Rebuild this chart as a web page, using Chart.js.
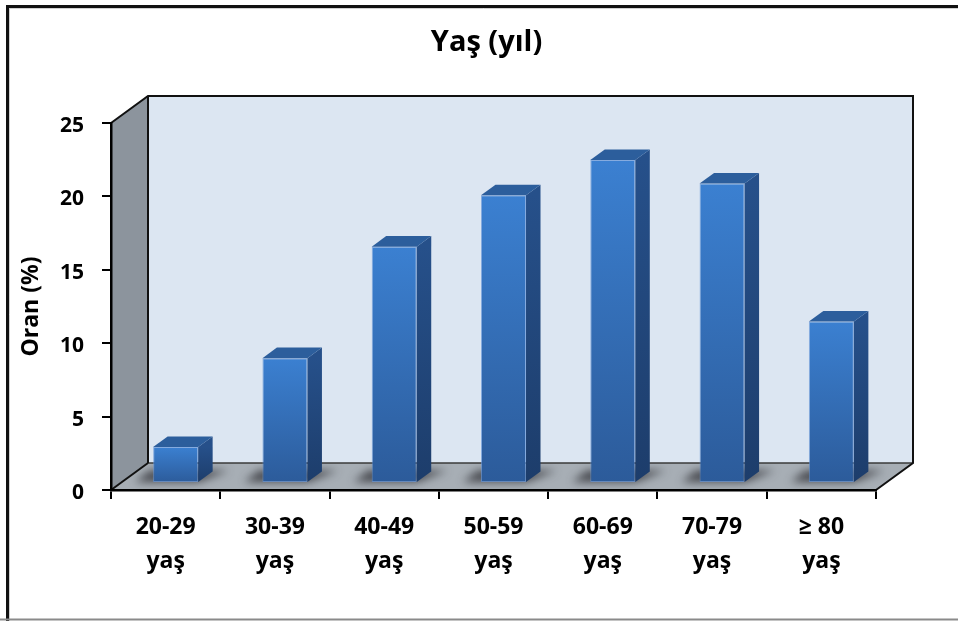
<!DOCTYPE html>
<html>
<head>
<meta charset="utf-8">
<script src="https://cdn.jsdelivr.net/npm/chart.js@4.4.1/dist/chart.umd.min.js"></script>
<style>
  html, body { margin: 0; padding: 0; background: #ffffff; }
  #c { display: block; }
</style>
</head>
<body>
<canvas id="c" width="958" height="621"></canvas>
<script>
// Age groups and their share (%)
const categories = [
  ['20-29', 'yaş'], ['30-39', 'yaş'], ['40-49', 'yaş'], ['50-59', 'yaş'],
  ['60-69', 'yaş'], ['70-79', 'yaş'], ['≥ 80', 'yaş']
];
const oranValues = [2.45, 8.5, 16.1, 19.6, 22.0, 20.4, 11.0];
const yTicks = [0, 5, 10, 15, 20, 25];
const chartTitle = 'Yaş (yıl)';
const yAxisTitle = 'Oran (%)';

// Oblique depth of the walls/floor and of the bars
const WALL_DX = 37, WALL_DY = -27;
const BAR_SHIFT_X = 10, BAR_SHIFT_Y = -7;   // bar front plane behind the axis plane
const BAR_DX = 14.5, BAR_DY = -10.6;        // bar thickness
const FONT = '"Open Sans", Lato, sans-serif';

function poly(ctx, pts) {
  ctx.beginPath();
  ctx.moveTo(pts[0][0], pts[0][1]);
  for (let i = 1; i < pts.length; i++) ctx.lineTo(pts[i][0], pts[i][1]);
  ctx.closePath();
}
function line(ctx, x1, y1, x2, y2) {
  ctx.beginPath(); ctx.moveTo(x1, y1); ctx.lineTo(x2, y2); ctx.stroke();
}

const depth3d = {
  id: 'depth3d',
  beforeDraw(chart) {
    const { ctx, chartArea: a, width, height } = chart;
    const L = a.left, R = a.right, T = a.top, B = a.bottom;
    ctx.save();
    // outer frame
    ctx.strokeStyle = '#111'; ctx.lineWidth = 3;
    line(ctx, 7.5, 5, 7.5, height);
    line(ctx, 6, 6.5, width, 6.5);
    ctx.strokeStyle = '#d0d0d0'; ctx.lineWidth = 1;
    line(ctx, 9.5, 8, 9.5, height);
    line(ctx, 9, 8.5, width, 8.5);
    ctx.strokeStyle = '#8a8a8a'; ctx.lineWidth = 2;
    line(ctx, 0, height - 1.5, width, height - 1.5);

    // back wall
    ctx.fillStyle = '#dce6f2';
    ctx.fillRect(L + WALL_DX, T + WALL_DY, R - L, B - T);
    // side wall
    ctx.fillStyle = '#8c949d';
    poly(ctx, [[L, T], [L + WALL_DX, T + WALL_DY], [L + WALL_DX, B + WALL_DY], [L, B]]);
    ctx.fill();
    // floor
    ctx.fillStyle = '#a7aeb5';
    poly(ctx, [[L, B], [L + WALL_DX, B + WALL_DY], [R + WALL_DX, B + WALL_DY], [R, B]]);
    ctx.fill();
    // floor back edge
    ctx.strokeStyle = '#3a3a3a'; ctx.lineWidth = 1.5;
    line(ctx, L + WALL_DX, B + WALL_DY, R + WALL_DX, B + WALL_DY);
    // wall outlines
    ctx.strokeStyle = '#111'; ctx.lineWidth = 2;
    ctx.lineJoin = 'miter';
    ctx.beginPath();
    ctx.moveTo(L, T);
    ctx.lineTo(L + WALL_DX, T + WALL_DY);
    ctx.lineTo(R + WALL_DX, T + WALL_DY);
    ctx.lineTo(R + WALL_DX, B + WALL_DY);
    ctx.lineTo(R, B);
    ctx.stroke();
    line(ctx, L + WALL_DX, T + WALL_DY, L + WALL_DX, B + WALL_DY);
    line(ctx, L, B, L + WALL_DX, B + WALL_DY);
    ctx.restore();
  },
  beforeDatasetsDraw(chart) {
    const { ctx, chartArea: a } = chart;
    const L = a.left, R = a.right, B = a.bottom;
    const meta = chart.getDatasetMeta(0);
    // soft contact shadows on the floor
    ctx.save();
    poly(ctx, [[L, B], [L + WALL_DX, B + WALL_DY], [R + WALL_DX, B + WALL_DY], [R, B]]);
    ctx.clip();
    ctx.filter = 'blur(4px)';
    ctx.fillStyle = 'rgba(40,40,45,0.75)';
    meta.data.forEach(el => {
      const l = el.x - el.width / 2 + BAR_SHIFT_X;
      const r = el.x + el.width / 2 + BAR_SHIFT_X;
      const b = el.base + BAR_SHIFT_Y;
      poly(ctx, [[l - 18, b], [r, b], [r + BAR_DX + 16, b + BAR_DY - 1], [l + BAR_DX - 18, b + BAR_DY - 1]]);
      ctx.fill();
    });
    ctx.restore();
    // bars are drawn on a plane slightly behind the axis plane
    ctx.save();
    ctx.translate(BAR_SHIFT_X, BAR_SHIFT_Y);
  },
  afterDatasetsDraw(chart) {
    const { ctx } = chart;
    ctx.restore();
    const meta = chart.getDatasetMeta(0);
    ctx.save();
    meta.data.forEach(el => {
      const l = el.x - el.width / 2 + BAR_SHIFT_X;
      const r = el.x + el.width / 2 + BAR_SHIFT_X;
      const t = el.y + BAR_SHIFT_Y;
      const b = el.base + BAR_SHIFT_Y;
      // side face
      const gs = ctx.createLinearGradient(0, t, 0, b);
      gs.addColorStop(0, '#26508a');
      gs.addColorStop(1, '#1d3d6b');
      ctx.fillStyle = gs;
      poly(ctx, [[r, t], [r + BAR_DX, t + BAR_DY], [r + BAR_DX, b + BAR_DY], [r, b]]);
      ctx.fill();
      // top face
      ctx.fillStyle = '#2c5e9c';
      poly(ctx, [[l, t], [l + BAR_DX, t + BAR_DY], [r + BAR_DX, t + BAR_DY], [r, t]]);
      ctx.fill();
    });
    ctx.restore();
  },
  afterDraw(chart) {
    const { ctx, chartArea: a } = chart;
    ctx.save();
    ctx.fillStyle = '#000';
    ctx.font = 'bold 29px ' + FONT;
    ctx.textAlign = 'center';
    ctx.textBaseline = 'alphabetic';
    ctx.fillText(chartTitle, (a.left + a.right) / 2 - 7, 51);
    ctx.restore();
  }
};

new Chart(document.getElementById('c'), {
  type: 'bar',
  data: {
    labels: categories,
    datasets: [{
      data: oranValues,
      barPercentage: 1,
      categoryPercentage: 0.412,
      borderWidth: 1,
      borderSkipped: false,
      borderColor: 'rgba(95,145,215,0.7)',
      backgroundColor: (c) => {
        const chart = c.chart;
        if (c.type !== 'data' || !chart.chartArea) return '#3572bf';
        const y = chart.scales.y;
        const top = y.getPixelForValue(c.raw);
        const bot = y.getPixelForValue(0);
        const g = chart.ctx.createLinearGradient(0, top, 0, bot);
        g.addColorStop(0, '#3b80d1');
        g.addColorStop(1, '#2c5b9a');
        return g;
      },
      clip: false
    }]
  },
  options: {
    responsive: false,
    animation: false,
    events: [],
    layout: { padding: { top: 123, right: 82, bottom: 0, left: 0 } },
    plugins: {
      legend: { display: false },
      title: { display: false },
      tooltip: { enabled: false }
    },
    scales: {
      x: {
        afterFit(scale) { scale.height = 131; },
        grid: {
          display: true, drawOnChartArea: false, drawTicks: true,
          tickLength: 9, color: '#000', lineWidth: 2, offset: true
        },
        border: { display: true, color: '#000', width: 2.5 },
        ticks: {
          color: '#000',
          font: { family: FONT, size: 23, weight: 'bold', lineHeight: 1.45 },
          padding: 12,
          maxRotation: 0,
          autoSkip: false
        }
      },
      y: {
        min: 0, max: 25,
        afterFit(scale) { scale.width = 111; },
        afterBuildTicks(scale) { scale.ticks = yTicks.map(v => ({ value: v })); },
        grid: {
          display: true, drawOnChartArea: false, drawTicks: true,
          tickLength: 9, color: '#000', lineWidth: 2
        },
        border: { display: true, color: '#000', width: 2.5 },
        ticks: {
          color: '#000',
          font: { family: FONT, size: 21, weight: 'bold' },
          padding: 18,
          labelOffset: 3
        },
        title: {
          display: true,
          text: yAxisTitle,
          color: '#000',
          font: { family: FONT, size: 23, weight: 'bold' },
          padding: { top: 18, bottom: 0 }
        }
      }
    }
  },
  plugins: [depth3d]
});
</script>
</body>
</html>
